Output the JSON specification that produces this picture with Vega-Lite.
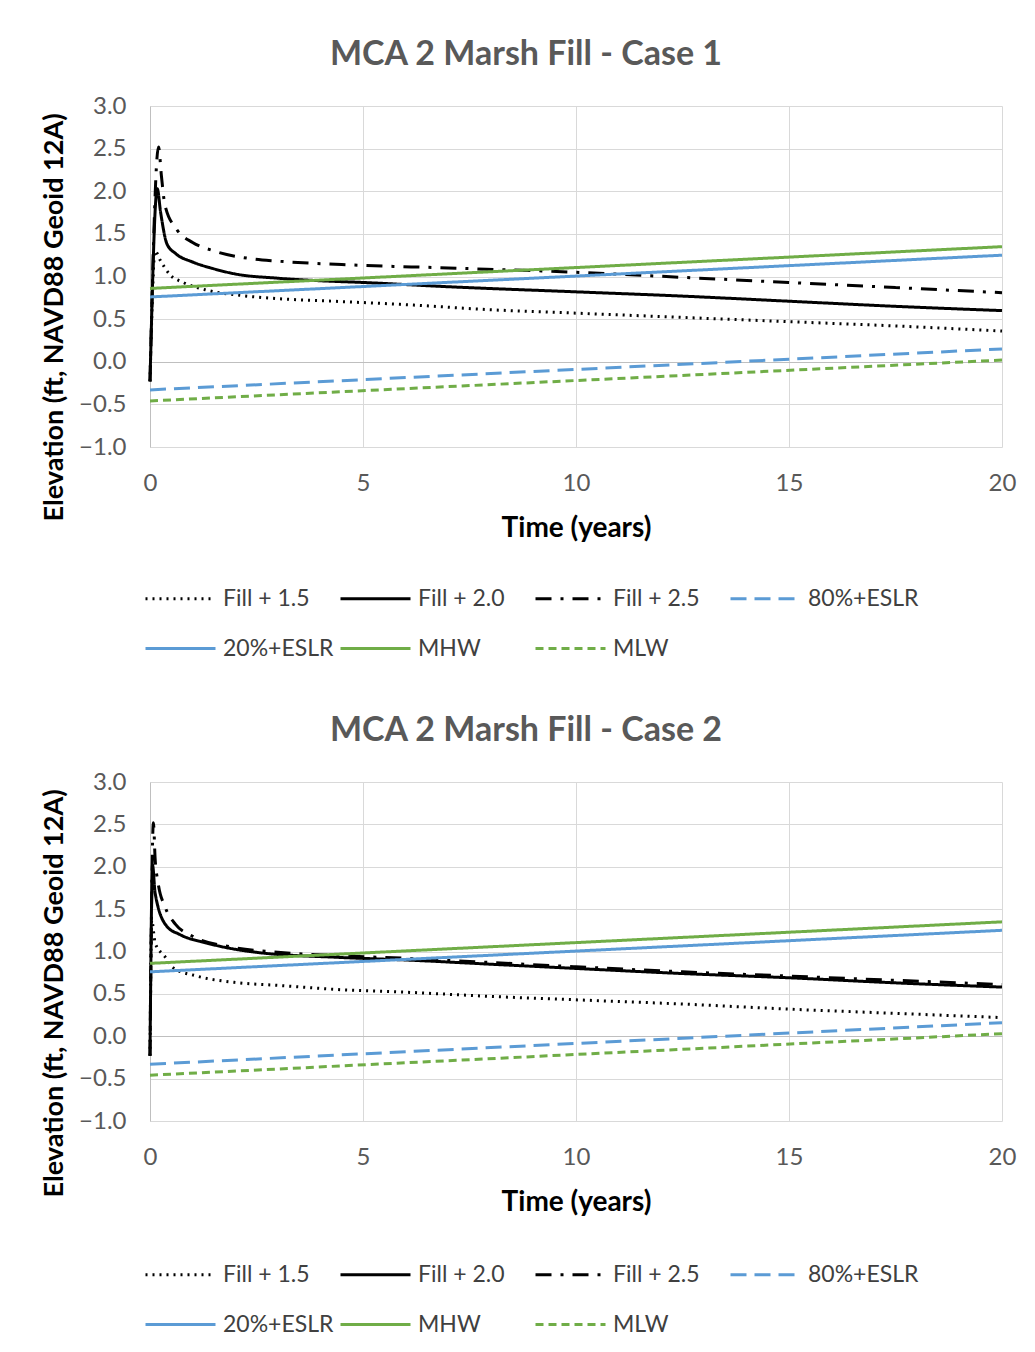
{
  "$schema": "https://vega.github.io/schema/vega-lite/v6.json",
  "background": "white",
  "padding": {"left": 40, "top": 38, "right": 20, "bottom": 0},
  "spacing": 53,
  "config": {
    "font": "Lato",
    "view": {"stroke": null},
    "axis": {"labelFont": "Lato", "labelFontSize": 24, "labelColor": "#595959", "titleFont": "Lato", "titleFontSize": 28, "titleFontWeight": "bold", "titleColor": "#000000", "ticks": false, "gridColor": "#d9d9d9", "gridWidth": 1, "labelFlush": false},
    "legend": {"labelFont": "Lato", "labelFontSize": 23, "labelColor": "#404040"},
    "title": {"font": "Lato", "fontSize": 34, "fontWeight": "bold", "color": "#595959"}
  },
  "datasets": {
    "d": [
      {"c": 1, "s": "Fill + 1.5", "x": 0, "y": -0.23},
      {"c": 1, "s": "Fill + 1.5", "x": 0.12, "y": 1.3},
      {"c": 1, "s": "Fill + 1.5", "x": 0.23, "y": 1.2},
      {"c": 1, "s": "Fill + 1.5", "x": 0.47, "y": 1.02},
      {"c": 1, "s": "Fill + 1.5", "x": 0.78, "y": 0.93},
      {"c": 1, "s": "Fill + 1.5", "x": 1.33, "y": 0.84},
      {"c": 1, "s": "Fill + 1.5", "x": 2.1, "y": 0.78},
      {"c": 1, "s": "Fill + 1.5", "x": 3, "y": 0.74},
      {"c": 1, "s": "Fill + 1.5", "x": 4.3, "y": 0.71},
      {"c": 1, "s": "Fill + 1.5", "x": 6, "y": 0.67},
      {"c": 1, "s": "Fill + 1.5", "x": 8, "y": 0.61},
      {"c": 1, "s": "Fill + 1.5", "x": 10, "y": 0.57},
      {"c": 1, "s": "Fill + 1.5", "x": 12.5, "y": 0.52},
      {"c": 1, "s": "Fill + 1.5", "x": 15, "y": 0.47},
      {"c": 1, "s": "Fill + 1.5", "x": 17.5, "y": 0.42},
      {"c": 1, "s": "Fill + 1.5", "x": 20, "y": 0.36},
      {"c": 1, "s": "Fill + 2.0", "x": 0, "y": -0.23},
      {"c": 1, "s": "Fill + 2.0", "x": 0.17, "y": 2.03},
      {"c": 1, "s": "Fill + 2.0", "x": 0.25, "y": 1.75},
      {"c": 1, "s": "Fill + 2.0", "x": 0.4, "y": 1.38},
      {"c": 1, "s": "Fill + 2.0", "x": 0.6, "y": 1.27},
      {"c": 1, "s": "Fill + 2.0", "x": 1, "y": 1.17},
      {"c": 1, "s": "Fill + 2.0", "x": 1.5, "y": 1.09},
      {"c": 1, "s": "Fill + 2.0", "x": 2, "y": 1.03},
      {"c": 1, "s": "Fill + 2.0", "x": 3, "y": 0.98},
      {"c": 1, "s": "Fill + 2.0", "x": 4, "y": 0.95},
      {"c": 1, "s": "Fill + 2.0", "x": 5, "y": 0.93},
      {"c": 1, "s": "Fill + 2.0", "x": 7, "y": 0.88},
      {"c": 1, "s": "Fill + 2.0", "x": 10, "y": 0.82},
      {"c": 1, "s": "Fill + 2.0", "x": 12.5, "y": 0.77},
      {"c": 1, "s": "Fill + 2.0", "x": 15, "y": 0.71},
      {"c": 1, "s": "Fill + 2.0", "x": 17.5, "y": 0.65},
      {"c": 1, "s": "Fill + 2.0", "x": 20, "y": 0.6},
      {"c": 1, "s": "Fill + 2.5", "x": 0, "y": -0.23},
      {"c": 1, "s": "Fill + 2.5", "x": 0.2, "y": 2.52},
      {"c": 1, "s": "Fill + 2.5", "x": 0.27, "y": 2.17},
      {"c": 1, "s": "Fill + 2.5", "x": 0.35, "y": 1.84},
      {"c": 1, "s": "Fill + 2.5", "x": 0.63, "y": 1.55},
      {"c": 1, "s": "Fill + 2.5", "x": 1, "y": 1.4},
      {"c": 1, "s": "Fill + 2.5", "x": 1.5, "y": 1.3},
      {"c": 1, "s": "Fill + 2.5", "x": 2.35, "y": 1.21},
      {"c": 1, "s": "Fill + 2.5", "x": 3, "y": 1.18},
      {"c": 1, "s": "Fill + 2.5", "x": 4.5, "y": 1.14},
      {"c": 1, "s": "Fill + 2.5", "x": 7, "y": 1.1},
      {"c": 1, "s": "Fill + 2.5", "x": 10, "y": 1.05},
      {"c": 1, "s": "Fill + 2.5", "x": 12.5, "y": 0.99},
      {"c": 1, "s": "Fill + 2.5", "x": 15, "y": 0.93},
      {"c": 1, "s": "Fill + 2.5", "x": 17.5, "y": 0.87},
      {"c": 1, "s": "Fill + 2.5", "x": 20, "y": 0.81},
      {"c": 1, "s": "80%+ESLR", "x": 0, "y": -0.33},
      {"c": 1, "s": "80%+ESLR", "x": 20, "y": 0.15},
      {"c": 1, "s": "20%+ESLR", "x": 0, "y": 0.76},
      {"c": 1, "s": "20%+ESLR", "x": 20, "y": 1.25},
      {"c": 1, "s": "MHW", "x": 0, "y": 0.86},
      {"c": 1, "s": "MHW", "x": 20, "y": 1.35},
      {"c": 1, "s": "MLW", "x": 0, "y": -0.46},
      {"c": 1, "s": "MLW", "x": 20, "y": 0.02},
      {"c": 2, "s": "Fill + 1.5", "x": 0, "y": -0.23},
      {"c": 2, "s": "Fill + 1.5", "x": 0.04, "y": 1.37},
      {"c": 2, "s": "Fill + 1.5", "x": 0.12, "y": 1.1},
      {"c": 2, "s": "Fill + 1.5", "x": 0.35, "y": 0.94},
      {"c": 2, "s": "Fill + 1.5", "x": 0.54, "y": 0.81},
      {"c": 2, "s": "Fill + 1.5", "x": 1.1, "y": 0.71},
      {"c": 2, "s": "Fill + 1.5", "x": 2.1, "y": 0.63},
      {"c": 2, "s": "Fill + 1.5", "x": 3, "y": 0.6},
      {"c": 2, "s": "Fill + 1.5", "x": 4.46, "y": 0.55},
      {"c": 2, "s": "Fill + 1.5", "x": 6, "y": 0.52},
      {"c": 2, "s": "Fill + 1.5", "x": 8, "y": 0.47},
      {"c": 2, "s": "Fill + 1.5", "x": 10, "y": 0.43},
      {"c": 2, "s": "Fill + 1.5", "x": 12.5, "y": 0.38},
      {"c": 2, "s": "Fill + 1.5", "x": 15, "y": 0.32},
      {"c": 2, "s": "Fill + 1.5", "x": 17.5, "y": 0.27},
      {"c": 2, "s": "Fill + 1.5", "x": 20, "y": 0.22},
      {"c": 2, "s": "Fill + 2.0", "x": 0, "y": -0.23},
      {"c": 2, "s": "Fill + 2.0", "x": 0.06, "y": 2.02},
      {"c": 2, "s": "Fill + 2.0", "x": 0.12, "y": 1.69},
      {"c": 2, "s": "Fill + 2.0", "x": 0.39, "y": 1.3},
      {"c": 2, "s": "Fill + 2.0", "x": 0.7, "y": 1.2},
      {"c": 2, "s": "Fill + 2.0", "x": 1.33, "y": 1.1},
      {"c": 2, "s": "Fill + 2.0", "x": 2.5, "y": 0.99},
      {"c": 2, "s": "Fill + 2.0", "x": 4.46, "y": 0.93},
      {"c": 2, "s": "Fill + 2.0", "x": 6, "y": 0.9},
      {"c": 2, "s": "Fill + 2.0", "x": 8, "y": 0.85},
      {"c": 2, "s": "Fill + 2.0", "x": 10, "y": 0.8},
      {"c": 2, "s": "Fill + 2.0", "x": 12.5, "y": 0.74},
      {"c": 2, "s": "Fill + 2.0", "x": 15, "y": 0.69},
      {"c": 2, "s": "Fill + 2.0", "x": 17.5, "y": 0.63},
      {"c": 2, "s": "Fill + 2.0", "x": 20, "y": 0.58},
      {"c": 2, "s": "Fill + 2.5", "x": 0, "y": -0.23},
      {"c": 2, "s": "Fill + 2.5", "x": 0.08, "y": 2.52},
      {"c": 2, "s": "Fill + 2.5", "x": 0.12, "y": 2.1},
      {"c": 2, "s": "Fill + 2.5", "x": 0.19, "y": 1.81},
      {"c": 2, "s": "Fill + 2.5", "x": 0.35, "y": 1.53},
      {"c": 2, "s": "Fill + 2.5", "x": 0.6, "y": 1.32},
      {"c": 2, "s": "Fill + 2.5", "x": 1, "y": 1.18},
      {"c": 2, "s": "Fill + 2.5", "x": 1.95, "y": 1.05},
      {"c": 2, "s": "Fill + 2.5", "x": 3, "y": 0.99},
      {"c": 2, "s": "Fill + 2.5", "x": 4.5, "y": 0.95},
      {"c": 2, "s": "Fill + 2.5", "x": 6, "y": 0.92},
      {"c": 2, "s": "Fill + 2.5", "x": 8, "y": 0.87},
      {"c": 2, "s": "Fill + 2.5", "x": 10, "y": 0.82},
      {"c": 2, "s": "Fill + 2.5", "x": 12.5, "y": 0.76},
      {"c": 2, "s": "Fill + 2.5", "x": 15, "y": 0.71},
      {"c": 2, "s": "Fill + 2.5", "x": 17.5, "y": 0.66},
      {"c": 2, "s": "Fill + 2.5", "x": 20, "y": 0.61},
      {"c": 2, "s": "80%+ESLR", "x": 0, "y": -0.33},
      {"c": 2, "s": "80%+ESLR", "x": 20, "y": 0.16},
      {"c": 2, "s": "20%+ESLR", "x": 0, "y": 0.76},
      {"c": 2, "s": "20%+ESLR", "x": 20, "y": 1.25},
      {"c": 2, "s": "MHW", "x": 0, "y": 0.86},
      {"c": 2, "s": "MHW", "x": 20, "y": 1.35},
      {"c": 2, "s": "MLW", "x": 0, "y": -0.46},
      {"c": 2, "s": "MLW", "x": 20, "y": 0.03}
    ]
  },
  "vconcat": [
    {
      "width": 852,
      "height": 341,
      "title": {"text": "MCA 2 Marsh Fill - Case 1", "dx": -50, "offset": 22},
      "data": {"name": "d"},
      "transform": [{"filter": "datum.c === 1"}],
      "mark": {"type": "line", "strokeWidth": 3, "interpolate": "monotone"},
      "encoding": {
        "x": {"field": "x", "type": "quantitative", "title": "Time (years)", "scale": {"domain": [0, 20], "nice": false}, "axis": {"values": [0, 5, 10, 15, 20], "format": "d", "labelPadding": 24, "titlePadding": 19, "domain": false, "grid": true}},
        "y": {"field": "y", "type": "quantitative", "title": "Elevation (ft, NAVD88 Geoid 12A)", "scale": {"domain": [-1, 3], "nice": false}, "axis": {"values": [-1, -0.5, 0, 0.5, 1, 1.5, 2, 2.5, 3], "format": ".1f", "labelPadding": 24, "titlePadding": 10, "titleFontSize": 27, "titleY": 211, "domain": true, "domainColor": "#bfbfbf", "gridColor": {"condition": {"test": "datum.value === 0", "value": "#bfbfbf"}, "value": "#d9d9d9"}}},
        "color": {"field": "s", "type": "nominal", "title": null, "scale": {"domain": ["Fill + 1.5", "Fill + 2.0", "Fill + 2.5", "80%+ESLR", "20%+ESLR", "MHW", "MLW"], "range": ["#000000", "#000000", "#000000", "#5b9bd5", "#5b9bd5", "#70ad47", "#70ad47"]}, "legend": {"orient": "none", "legendX": -6, "legendY": 456, "direction": "horizontal", "columns": 4, "gridAlign": "all", "symbolType": "stroke", "symbolSize": 4900, "symbolStrokeWidth": 3, "labelOffset": 6, "columnPadding": 0, "rowPadding": 1}},
        "strokeDash": {"field": "s", "type": "nominal", "title": null, "scale": {"domain": ["Fill + 1.5", "Fill + 2.0", "Fill + 2.5", "80%+ESLR", "20%+ESLR", "MHW", "MLW"], "range": [[2, 5], [1, 0], [16, 9, 3, 9], [16, 8], [1, 0], [1, 0], [8, 5]]}}
      }
    },
    {
      "width": 852,
      "height": 339,
      "title": {"text": "MCA 2 Marsh Fill - Case 2", "dx": -50, "offset": 22},
      "data": {"name": "d"},
      "transform": [{"filter": "datum.c === 2"}],
      "mark": {"type": "line", "strokeWidth": 3, "interpolate": "monotone"},
      "encoding": {
        "x": {"field": "x", "type": "quantitative", "title": "Time (years)", "scale": {"domain": [0, 20], "nice": false}, "axis": {"values": [0, 5, 10, 15, 20], "format": "d", "labelPadding": 24, "titlePadding": 19, "domain": false, "grid": true}},
        "y": {"field": "y", "type": "quantitative", "title": "Elevation (ft, NAVD88 Geoid 12A)", "scale": {"domain": [-1, 3], "nice": false}, "axis": {"values": [-1, -0.5, 0, 0.5, 1, 1.5, 2, 2.5, 3], "format": ".1f", "labelPadding": 24, "titlePadding": 10, "titleFontSize": 27, "titleY": 211, "domain": true, "domainColor": "#bfbfbf", "gridColor": {"condition": {"test": "datum.value === 0", "value": "#bfbfbf"}, "value": "#d9d9d9"}}},
        "color": {"field": "s", "type": "nominal", "title": null, "scale": {"domain": ["Fill + 1.5", "Fill + 2.0", "Fill + 2.5", "80%+ESLR", "20%+ESLR", "MHW", "MLW"], "range": ["#000000", "#000000", "#000000", "#5b9bd5", "#5b9bd5", "#70ad47", "#70ad47"]}, "legend": {"orient": "none", "legendX": -6, "legendY": 456, "direction": "horizontal", "columns": 4, "gridAlign": "all", "symbolType": "stroke", "symbolSize": 4900, "symbolStrokeWidth": 3, "labelOffset": 6, "columnPadding": 0, "rowPadding": 1}},
        "strokeDash": {"field": "s", "type": "nominal", "title": null, "scale": {"domain": ["Fill + 1.5", "Fill + 2.0", "Fill + 2.5", "80%+ESLR", "20%+ESLR", "MHW", "MLW"], "range": [[2, 5], [1, 0], [16, 9, 3, 9], [16, 8], [1, 0], [1, 0], [8, 5]]}}
      }
    }
  ],
  "resolve": {"scale": {"color": "independent", "strokeDash": "independent"}}
}
